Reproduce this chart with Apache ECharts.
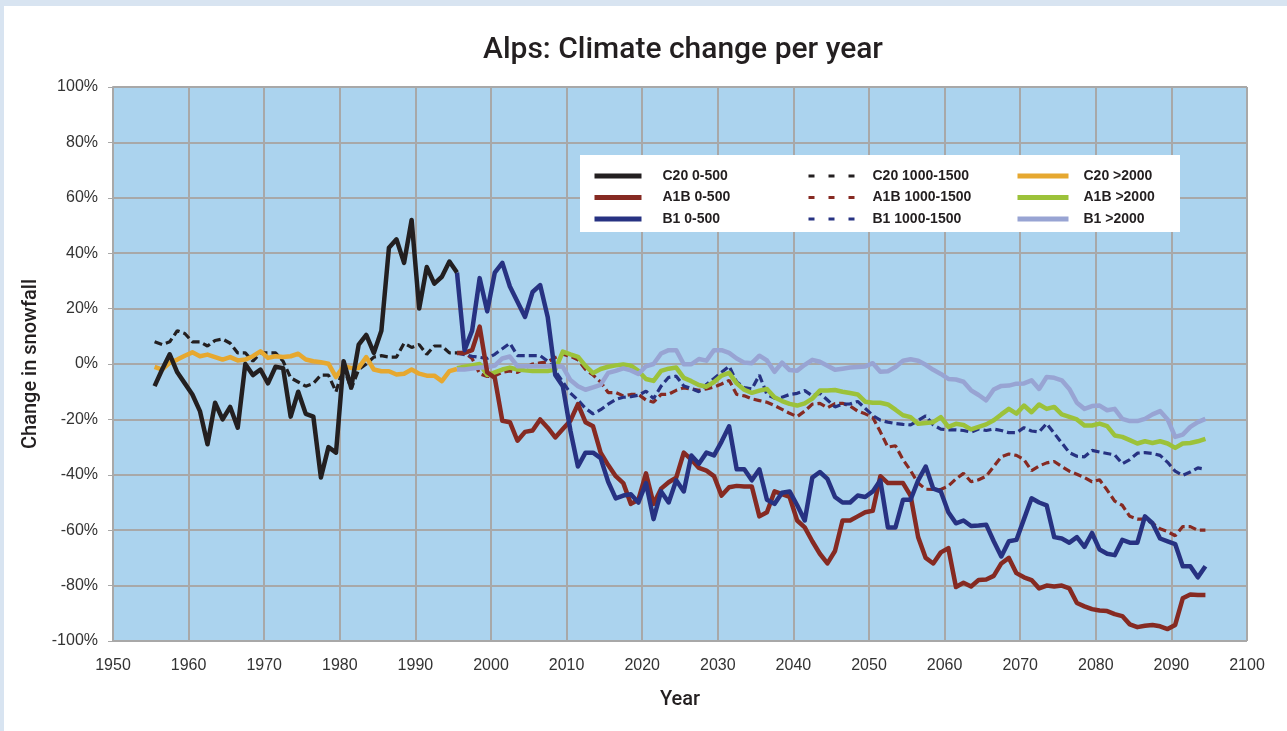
<!DOCTYPE html>
<html>
<head>
<meta charset="utf-8">
<title>Alps: Climate change per year</title>
<script src="https://cdn.jsdelivr.net/npm/echarts@6/dist/echarts.min.js"></script>
<style>
  html, body { margin: 0; padding: 0; width: 1287px; height: 731px; background: #d8e4f1; overflow: hidden; }
  #chart { position: absolute; left: 4px; top: 6px; width: 1283px; height: 725px; background: #fff; }
</style>
</head>
<body>
<div id="chart"></div>
<script>
// years are plotted at mid-year, one value per year
const c20Start = 1955.5
const scenStart = 1995.5

// C20 control run, 1955.5 - 1995.5
const c20Low = [
  -8, -2, 3.5, -3, -7, -11, -17, -29, -14, -20,
  -15.5, -23, 0, -4, -2, -7, -1, -1.5, -19, -10,
  -18, -19, -41, -30, -32, 1, -8.5, 7, 10.5, 4,
  12, 42, 45, 36.5, 52, 20, 35, 29, 31.5, 37,
  33
]
const c20Mid = [
  8, 7, 8, 12, 11, 8, 8, 6.5, 8.5, 9,
  7.5, 4, 4, 1, 4, 4, 4, 1, -5, -6.5,
  -8, -7, -4, -4, -10, -1, -9, -2, 0, 2.5,
  3, 2.5, 2.5, 7.5, 6, 7, 3.5, 6.5, 6.5, 4,
  4
]
const c20High = [
  -1, -2, 0.4, 1.6, 3, 4.2, 2.8, 3.4, 2.5, 1.6,
  2.5, 1.3, 1.6, 2.8, 4.6, 2.2, 2.8, 2.5, 2.8, 3.7,
  1.6, 1, 0.6, 0.1, -4.7, -0.8, -1.4, -1.4, 2.5, -2,
  -2.6, -2.6, -3.8, -3.5, -2, -3.5, -4.2, -4.2, -6.2, -2.6,
  -1.8
]

// scenarios, 1995.5 - 2094.5
const a1bLow = [
  4, 4, 5, 13.5, -3, -5, -20.5, -21, -27.7, -24.5,
  -24, -20, -23, -26.5, -23.5, -20.5, -14.5, -21, -22.5, -32,
  -36.5, -40.5, -43, -50.5, -49, -39.5, -50.5, -45, -42.7, -41,
  -32, -34.5, -37.5, -38.5, -40.5, -47.5, -44.5, -44, -44.2, -44.2,
  -55, -53.5, -46, -47, -48, -56.5, -59, -64, -68.5, -72,
  -67.5, -56.5, -56.5, -55, -53.5, -53, -40.5, -43, -43, -43,
  -47.5, -62.5, -70, -72, -68, -66.5, -80.5, -79, -80.3, -78,
  -77.8, -76.5, -72, -70, -75.5, -77, -78, -81, -80, -80.3,
  -80, -81, -86.3, -87.5, -88.5, -89, -89.2, -90.3, -91, -94,
  -95, -94.5, -94.2, -94.7, -95.7, -94.2, -84.6, -83.2, -83.4, -83.4
]
const b1Low = [
  33, 5, 12, 31, 19, 33, 36.5, 28, 22.5, 17,
  26, 28.5, 17, -4, -8, -24, -37, -32, -32, -34,
  -42.5, -48.5, -47.5, -47, -50, -43, -56, -46, -50, -42,
  -46, -33, -36, -32, -33, -28, -22.5, -38, -38, -42,
  -38, -49, -50.5, -46.5, -46, -51, -56.5, -41, -39, -41.5,
  -48, -50, -50, -47.5, -48, -46, -42, -59, -59, -49,
  -49, -42, -37, -45, -46, -53.5, -57.5, -56.5, -58.5, -58.3,
  -58, -64, -69.5, -64, -63.5, -56, -48.5, -50, -51, -62.5,
  -63, -64.5, -62.5, -66, -61, -67, -68.5, -69, -63.5, -64.5,
  -64.5, -55, -57.5, -63, -64, -65, -73, -73, -77, -73
]
const a1bMid = [
  4, 4, 2, -3.5, -4.5, -4.3, -3, -2.5, -3, -1.5,
  0, 0.4, 0.8, 2.3, 3.5, 2.8, 1.5, -2, -4, -6.5,
  -10.3, -10.3, -11.5, -11, -11, -13, -13.8, -11, -10.9, -9.5,
  -8.6, -9, -9.5, -9, -8.3, -7.2, -5.9, -11, -11.5, -12.6,
  -13.2, -13.8, -15, -16.4, -17.8, -19, -17, -14.5, -14.2, -15.8,
  -14.3, -14.2, -15.2, -17, -18, -19.3, -24.5, -30, -29.5, -34.5,
  -38.5, -43, -45.2, -45.3, -45.3, -44, -41.5, -39.5, -42.5, -41.8,
  -40.5, -37, -33.5, -32.5, -33, -34.5, -38.5, -36.8, -35.7, -35.2,
  -37, -38.7, -39.8, -41, -42.5, -41.8, -45.5, -49.5, -51, -55,
  -56, -56, -57.5, -59.5, -60.5, -62, -58.7, -58.7, -60, -60
]
const b1Mid = [
  4, 3.4, 2.8, 2.4, 2, 3.5, 5.5, 7.5, 3, 3,
  3, 3, 1, -2.5, -6.5, -10.5, -13, -16, -18, -16.5,
  -14.5, -12.8, -12, -11.8, -11.3, -9.8, -12.5, -8, -4.8, -4.4,
  -7.9, -8.9, -10, -7.4, -5.2, -3, -0.8, -6.5, -8.5, -9,
  -4, -11, -12.3, -12, -11, -10.6, -9.6, -11.5, -10.6, -13,
  -15.5, -14.5, -14.4, -13.5, -16, -18.6, -20.3, -21, -21.5, -21.8,
  -22, -20.4, -18.7, -22, -23.5, -23.8, -23.8, -24, -24.6, -23.5,
  -24, -23.5, -24, -24.8, -24.8, -23, -24.2, -24.5, -21.5, -25,
  -28.5, -32, -33.3, -33.5, -31.2, -31.8, -32.3, -32.8, -36, -34.5,
  -32.2, -32, -32.3, -33, -35.5, -38.7, -40.2, -39, -37.5, -38
]
const a1bHigh = [
  -1.5, -1, -0.5, 0, -4, -3, -2, -1.3, -2, -2.3,
  -2.5, -2.5, -2.5, -2, 4.5, 3.5, 2.6, -0.7, -3.3, -1.8,
  -1, -0.5, -0.2, -0.6, -2.5, -5.4, -6.1, -2.5, -1.7, -1.3,
  -5, -6.2, -7.6, -8.2, -6.5, -4.2, -3.2, -7, -9.3, -10.4,
  -9.6, -9, -12, -13.4, -14.4, -15, -14.2, -12.5, -9.6, -9.6,
  -9.4, -10, -10.5, -11, -13.6, -14, -14, -14.6, -16.5, -18.5,
  -19.2, -21.6, -21.3, -21, -19.2, -22.7, -21.6, -22, -23.6, -22.7,
  -21.8, -20.3, -18.2, -16.2, -17.9, -15, -17.4, -14.6, -16.2, -15.5,
  -18.2, -19.1, -20, -22.2, -22.2, -21.5, -22.4, -25.8, -26.3, -27.5,
  -28.7, -27.9, -28.5, -27.9, -28.7, -30.3, -28.7, -28.5, -27.9, -27
]
const b1High = [
  -2, -2, -1.6, -1.3, -1.2, -0.6, 2, 2.7, -0.8, -0.8,
  -0.8, -0.8, -0.8, -0.8, -1, -5.8, -8, -9.3, -8.4, -7.5,
  -3.2, -2.5, -1.6, -2.3, -3.6, -0.8, 0, 3.8, 5, 5,
  -0.1, -0.1, 1.8, 1.2, 5, 5, 4, 2, 0.5, 0.3,
  3, 1.3, -2.8, 0.5, -2.2, -2.4, -0.3, 1.5, 0.8, -0.6,
  -2.1, -1.7, -1.3, -1.1, -0.9, 0.3, -2.8, -2.6, -1.1, 1.2,
  1.7, 1.2, -0.3, -2.1, -3.6, -5.4, -5.6, -6.4, -9.5, -11.2,
  -13.1, -9.2, -7.9, -7.8, -7.1, -7, -5.9, -9, -4.7, -5,
  -5.9, -9, -14, -16.2, -15.2, -15, -16.7, -16.2, -19.8, -20.6,
  -20.6, -19.8, -18.2, -17, -20, -26.3, -25.5, -22.7, -21, -19.8
]

const legendCol1 = ['C20 0-500', 'A1B 0-500', 'B1 0-500']
const legendCol2 = ['C20 1000-1500', 'A1B 1000-1500', 'B1 1000-1500']
const legendCol3 = ['C20 >2000', 'A1B >2000', 'B1 >2000']

const pairs = (start, vals) => vals.map((v, i) => [start + i, v])

const solid = (name, color, start, vals) => ({
  name,
  type: 'line',
  symbol: 'none',
  color,
  lineStyle: { color, width: 4.5, join: 'round' },
  data: pairs(start, vals)
})
const dashed = (name, color, start, vals) => ({
  name,
  type: 'line',
  symbol: 'none',
  color,
  lineStyle: { color, width: 3.2, type: [8, 4] },
  data: pairs(start, vals)
})

const legendText = {
  fontFamily: 'Liberation Sans',
  fontWeight: 'bold',
  fontSize: 14,
  color: '#231f20'
}
const makeLegend = (data, left, width, pad, line) => ({
  data,
  orient: 'vertical',
  left,
  top: 163,
  padding: 0,
  itemWidth: width,
  itemHeight: 14,
  itemGap: 7.5,
  selectedMode: false,
  itemStyle: { opacity: 0 },
  lineStyle: line,
  textStyle: Object.assign({ padding: [0, 0, 0, pad] }, legendText)
})

const chart = echarts.init(document.getElementById('chart'))
chart.setOption({
  animation: false,
  backgroundColor: '#fff',
  title: {
    text: 'Alps: Climate change per year',
    left: 474,
    top: 24,
    textStyle: { fontFamily: 'Roboto', fontWeight: 500, fontSize: 30, color: '#231f20' }
  },
  grid: { left: 109, top: 81, right: 40, bottom: 90, backgroundColor: '#abd3ee', show: true, borderWidth: 0 },
  graphic: [{
    type: 'rect',
    z: 3,
    shape: { x: 576, y: 149, width: 600, height: 77 },
    style: { fill: '#fff' }
  }],
  legend: [
    makeLegend(legendCol1, 588, 47, 16, { width: 5 }),
    makeLegend(legendCol2, 803, 47, 12, { width: 3, type: [6, 14] }),
    makeLegend(legendCol3, 1011, 51, 10, { width: 5 })
  ],
  xAxis: {
    type: 'value',
    min: 1950,
    max: 2100,
    interval: 10,
    name: 'Year',
    nameLocation: 'middle',
    nameGap: 49,
    nameTextStyle: { fontFamily: 'Roboto', fontWeight: 500, fontSize: 20, color: '#231f20' },
    axisLine: { show: true, lineStyle: { color: '#a8a8a8', width: 2 } },
    axisTick: { show: true, length: 5, lineStyle: { color: '#a8a8a8' } },
    axisLabel: { formatter: v => String(v), fontFamily: 'Liberation Sans', fontSize: 16, color: '#333', margin: 17 },
    splitLine: { show: true, lineStyle: { color: '#a8a8a8', width: 2 } }
  },
  yAxis: {
    type: 'value',
    min: -100,
    max: 100,
    interval: 20,
    name: 'Change in snowfall',
    nameLocation: 'middle',
    nameGap: 64,
    nameTextStyle: { fontFamily: 'Roboto', fontWeight: 500, fontSize: 20, color: '#231f20' },
    axisLine: { show: true, lineStyle: { color: '#a8a8a8', width: 2 } },
    axisTick: { show: true, length: 5, lineStyle: { color: '#a8a8a8' } },
    axisLabel: { formatter: '{value}%', fontFamily: 'Liberation Sans', fontSize: 16, color: '#333', margin: 15 },
    splitLine: { show: true, lineStyle: { color: '#a8a8a8', width: 2 } }
  },
  series: [
    dashed('C20 1000-1500', '#231f20', c20Start, c20Mid),
    dashed('A1B 1000-1500', '#862a22', scenStart, a1bMid),
    dashed('B1 1000-1500', '#273282', scenStart, b1Mid),
    solid('C20 >2000', '#e6a830', c20Start, c20High),
    solid('A1B >2000', '#9cc23a', scenStart, a1bHigh),
    solid('B1 >2000', '#98a4d3', scenStart, b1High),
    solid('A1B 0-500', '#862a22', scenStart, a1bLow),
    solid('B1 0-500', '#273282', scenStart, b1Low),
    solid('C20 0-500', '#231f20', c20Start, c20Low)
  ]
})
</script>
</body>
</html>
